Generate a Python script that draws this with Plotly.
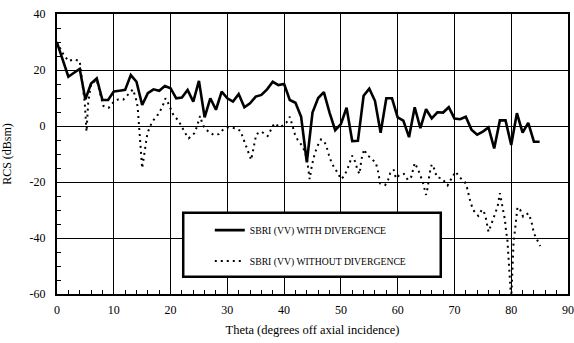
import plotly.graph_objects as go

# ---- data ----
theta_with = list(range(0, 86))
rcs_with = [29.8, 23.5, 17.6, 19.0, 20.4, 9.5, 15.2, 17.0, 9.3, 9.3,
            12.3, 12.6, 12.9, 18.2, 15.8, 7.5, 11.7, 13.1, 12.6, 14.3,
            13.5, 9.9, 10.2, 12.9, 8.7, 16.1, 3.1, 9.9, 5.8, 12.3,
            9.9, 8.7, 11.4, 6.7, 8.1, 10.5, 11.1, 13.1, 15.8, 14.6,
            15.0, 9.3, 8.3, 3.3, -13.0, 4.8, 10.0, 12.1, 4.8, -1.5,
            0.7, 6.5, -5.4, -5.3, 10.8, 13.3, 9.0, -2.4, 9.9, 9.9,
            3.1, 1.9, -4.0, 6.7, -0.8, 6.0, 2.7, 4.9, 4.8, 6.7,
            2.7, 2.4, 3.3, -1.3, -3.1, -2.0, -0.5, -8.0, 2.0, 2.0,
            -6.8, 4.6, -2.4, 1.1, -5.6, -5.6]

theta_without = [0, 1, 2, 3, 4, 4.9, 5.2, 5.5, 6, 7, 7.8, 8.2, 9.1, 10.1, 10.8, 11.7,
                 12.6, 13.4, 14.0, 14.2, 15.0, 15.9, 16.3, 16.9, 17.6, 18.2, 18.8, 19.1,
                 19.6, 20.0, 20.5, 21.4, 22.0, 22.6, 23.2, 24.2, 24.6, 25.2, 25.5, 26.0,
                 26.7, 27.6, 28.5, 29.3, 30.2, 31.4, 32.3, 32.7, 34.2, 35.1, 36.0, 37.1,
                 37.8, 38.3, 39.3, 40.4, 41.0, 41.3, 41.9, 42.4, 43.3, 44.0, 44.5, 44.9,
                 45.4, 45.9, 46.5, 47.1, 47.5, 47.9, 48.3, 48.8, 49.5, 50.0, 50.6, 51.2,
                 51.6, 52.0, 52.6, 52.9, 53.3, 53.6, 54.1, 54.6, 55.4, 56.2, 56.6, 56.9,
                 57.8, 58.3, 58.7, 59.3, 59.7, 60.3, 61.1, 61.8, 62.4, 63.0, 63.6, 64.0,
                 64.4, 65.0, 65.3, 65.6, 66.0, 66.3, 66.9, 67.8, 68.8, 69.5, 70.2, 70.9,
                 71.8, 72.2, 72.8, 73.3, 73.8, 74.2, 74.8, 75.1, 75.5, 76.0, 76.3, 76.8,
                 77.2, 77.6, 78.0, 78.2, 78.6, 78.9, 79.1, 79.3, 80.0, 80.4, 80.7, 81.0,
                 81.1, 81.6, 82.1, 83.0, 83.5, 84.0, 84.6, 85.1]
rcs_without = [30.0, 26.0, 23.2, 23.8, 23.2, 8.0, -2.0, 8.5, 15.0, 16.5, 10.0, 7.1, 6.5, 8.9, 9.5, 9.5,
               11.4, 13.1, 9.0, 6.9, -15.1, -2.9, -0.5, 1.9, 3.5, 5.5, 8.1, 9.9,
               8.1, 6.3, 3.9, 1.9, -0.5, -2.6, -4.4, -2.6, -0.5, 3.6, 1.5, -0.8,
               -2.0, -3.2, -2.9, -1.2, -0.5, -0.8, -1.7, -3.8, -12.1, -2.9, -2.0, -3.6,
               -0.8, 1.0, -0.5, 1.2, 3.3, 1.5, -2.9, -5.0, -7.4, -11.5, -19.0, -14.0,
               -9.8, -7.1, -4.8, -5.6, -7.6, -10.4, -12.8, -14.8, -16.9, -19.0, -17.9, -15.1,
               -13.1, -10.6, -13.1, -15.7, -17.1, -12.0, -8.3, -10.4, -11.5, -13.5, -16.7, -20.5,
               -21.1, -19.3, -16.8, -15.6, -18.7, -17.5, -17.1, -19.3, -18.1, -13.2, -15.5, -17.9,
               -19.9, -24.6, -21.9, -17.1, -13.7, -14.5, -18.3, -18.7, -21.2, -18.7, -16.3, -18.3,
               -19.9, -21.9, -27.0, -30.0, -31.4, -32.1, -30.0, -30.0, -32.6, -37.8, -36.2, -33.6,
               -31.0, -28.8, -24.0, -26.4, -30.0, -33.6, -37.8, -40.0, -62.0, -41.9, -36.5, -31.8,
               -29.0, -30.0, -32.4, -31.2, -33.6, -38.3, -40.7, -42.9]

x_ticks = [0, 10, 20, 30, 40, 50, 60, 70, 80, 90]
y_ticks = [-60, -40, -20, 0, 20, 40]

name_with = "SBRI (VV) WITH DIVERGENCE"
name_without = "SBRI (VV) WITHOUT DIVERGENCE"

SERIF = "Liberation Serif, Times New Roman, serif"

fig = go.Figure()
fig.add_trace(go.Scatter(x=theta_without, y=rcs_without, mode="lines", name=name_without,
                         line=dict(color="black", width=2, dash="2px,4px"),
                         legendgroup="b", legendrank=2))
fig.add_trace(go.Scatter(x=theta_with, y=rcs_with, mode="lines", name=name_with,
                         line=dict(color="black", width=2.6),
                         legendgroup="a", legendrank=1))

# legend frame
fig.add_shape(type="rect", xref="paper", yref="paper",
              x0=0.247, x1=0.751, y0=0.062, y1=0.290,
              line=dict(color="black", width=2.5), fillcolor="white", layer="above")

fig.update_layout(
    width=574, height=343,
    margin=dict(l=57, r=6, t=14, b=49, autoexpand=False),
    paper_bgcolor="white", plot_bgcolor="white",
    font=dict(family=SERIF, size=12, color="black"),
    showlegend=True,
    legend=dict(x=0.299, y=0.28, xanchor="left", yanchor="top",
                bgcolor="rgba(0,0,0,0)", borderwidth=0,
                font=dict(family=SERIF, size=9.7, color="black"),
                tracegroupgap=12),
)
fig.update_xaxes(range=[0, 90], tickvals=x_ticks, ticktext=[str(v) for v in x_ticks],
                 automargin=False,
                 showgrid=True, gridcolor="black", gridwidth=1, zeroline=False,
                 showline=True, linecolor="black", linewidth=2, mirror=True,
                 ticks="inside", ticklen=5, tickcolor="black", ticklabelstandoff=4,
                 minor=dict(dtick=2, ticks="inside", ticklen=4, tickcolor="black", showgrid=False),
                 title=dict(text="Theta (degrees off axial incidence)", standoff=9,
                            font=dict(family=SERIF, size=12.5)),
                 tickfont=dict(family=SERIF, size=12))
fig.update_yaxes(range=[-60, 40], tickvals=y_ticks, ticktext=[str(v) for v in y_ticks],
                 automargin=False,
                 showgrid=True, gridcolor="black", gridwidth=1, zeroline=False,
                 showline=True, linecolor="black", linewidth=2, mirror=True,
                 ticks="inside", ticklen=5, tickcolor="black", ticklabelstandoff=7,
                 minor=dict(dtick=5, ticks="inside", ticklen=4, tickcolor="black", showgrid=False),
                 title=dict(text="RCS (dBsm)", standoff=18, font=dict(family=SERIF, size=12)),
                 tickfont=dict(family=SERIF, size=12))

fig.write_html("out.html", config={"displayModeBar": False},
               post_script="document.body.style.margin='0';")
